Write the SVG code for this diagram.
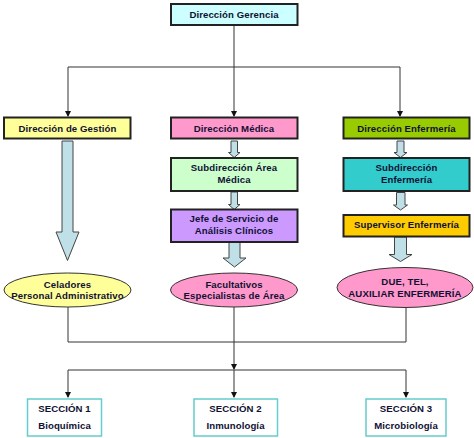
<svg xmlns="http://www.w3.org/2000/svg" width="474" height="438" viewBox="0 0 474 438">
<style>
.box{stroke:#222;stroke-width:2}
.sec{fill:#fff;stroke:#66CCCC;stroke-width:1.5}
.ell{stroke:#333;stroke-width:1}
.blk{fill:#BFE0E6;stroke:#444;stroke-width:1}
.ln{fill:none;stroke:#333;stroke-width:1}
text{font-family:"Liberation Sans",Arial,sans-serif;font-weight:bold;font-size:9.6px;fill:#111133;text-anchor:middle;letter-spacing:0.1px}
</style>
<defs>
<marker id="ah" markerWidth="6" markerHeight="6" refX="5" refY="3" orient="auto" markerUnits="userSpaceOnUse">
<path d="M0,0 L6,3 L0,6 Z" fill="#111"/>
</marker>
</defs>
<rect width="474" height="438" fill="#fff"/>
<g id="connectors">
<path class="ln" d="M234,25 V116" marker-end="url(#ah)"/>
<path class="ln" d="M68,67 H400"/>
<path class="ln" d="M68,67 V116" marker-end="url(#ah)"/>
<path class="ln" d="M400,67 V116" marker-end="url(#ah)"/>
<path class="ln" d="M68,307 V342 H406 V307"/>
<path class="ln" d="M234,307 V369" marker-end="url(#ah)"/>
<path class="ln" d="M68,370 H406"/>
<path class="ln" d="M68,370 V397" marker-end="url(#ah)"/>
<path class="ln" d="M234,370 V397" marker-end="url(#ah)"/>
<path class="ln" d="M406,370 V397" marker-end="url(#ah)"/>
<path class="blk" d="M62,141 H73 V232 H79 L67.5,260.5 L56,232 H62 Z"/>
<path class="blk" d="M231,141 H237.5 V152.5 H240 L234.2,157.5 L228.5,152.5 H231 Z"/>
<path class="blk" d="M231,192 H237.5 V204.5 H240 L234.2,209.5 L228.5,204.5 H231 Z"/>
<path class="blk" d="M229,242.5 H240 V258 H246 L234.5,267 L223,258 H229 Z"/>
<path class="blk" d="M397,141 H404 V152.5 H407 L400.5,157.5 L394,152.5 H397 Z"/>
<path class="blk" d="M396.5,192.5 H405 V205 H407.5 L400.5,210 L393.5,205 H396.5 Z"/>
<path class="blk" d="M394.5,237 H406.5 V254.5 H412 L400.5,261.5 L389,254.5 H394.5 Z"/>
</g>
<g id="n-gerencia"><rect class="box" x="171" y="4" width="126.5" height="21" fill="#CCFFFF"/><text x="234" y="18">Dirección Gerencia</text></g>
<g id="n-gestion"><rect class="box" x="4" y="117.5" width="126.5" height="21" fill="#FFFF99"/><text x="67.5" y="131.5">Dirección de Gestión</text></g>
<g id="n-medica"><rect class="box" x="171" y="117.5" width="126.5" height="21" fill="#FF99CC"/><text x="234" y="131.5">Dirección Médica</text></g>
<g id="n-enfermeria"><rect class="box" x="343.5" y="117.5" width="126" height="21" fill="#99CC00"/><text x="406.5" y="131.5">Dirección Enfermería</text></g>
<g id="n-subarea"><rect class="box" x="171" y="158" width="126.5" height="33" fill="#CCFFCC"/><text x="234" y="171">Subdirección Área</text><text x="234" y="182.5">Médica</text></g>
<g id="n-jefe"><rect class="box" x="171" y="209.5" width="126.5" height="32.5" fill="#CC99FF"/><text x="234" y="222">Jefe de Servicio de</text><text x="234" y="233.5">Análisis Clínicos</text></g>
<g id="n-subenf"><rect class="box" x="343.5" y="158" width="126" height="33" fill="#33CCCC"/><text x="406.5" y="171">Subdirección</text><text x="406.5" y="182.5">Enfermería</text></g>
<g id="n-supervisor"><rect class="box" x="343.5" y="215" width="126" height="21.5" fill="#FFCC00"/><text x="406.5" y="228">Supervisor Enfermería</text></g>
<g id="n-celadores"><ellipse class="ell" cx="67.5" cy="290" rx="63.5" ry="17" fill="#FFFF99"/><text x="67.5" y="287.5">Celadores</text><text x="67.5" y="298.5">Personal Administrativo</text></g>
<g id="n-facultativos"><ellipse class="ell" cx="234" cy="290" rx="63.5" ry="17" fill="#FF99CC"/><text x="234" y="287.5">Facultativos</text><text x="234" y="298.5">Especialistas de Área</text></g>
<g id="n-due"><ellipse class="ell" cx="405" cy="287.5" rx="68" ry="20" fill="#FF99CC"/><text x="405" y="284.5">DUE, TEL,</text><text x="405" y="296.5">AUXILIAR ENFERMERÍA</text></g>
<g id="n-sec1"><rect class="sec" x="27.5" y="399" width="74" height="37"/><text x="64.5" y="411.5">SECCIÓN 1</text><text x="64.5" y="428.5">Bioquímica</text></g>
<g id="n-sec2"><rect class="sec" x="194" y="399" width="83.5" height="37"/><text x="235.5" y="411.5">SECCIÓN 2</text><text x="235.5" y="428.5">Inmunología</text></g>
<g id="n-sec3"><rect class="sec" x="366" y="399" width="80" height="37"/><text x="406" y="411.5">SECCIÓN 3</text><text x="406" y="428.5">Microbiología</text></g>
</svg>
